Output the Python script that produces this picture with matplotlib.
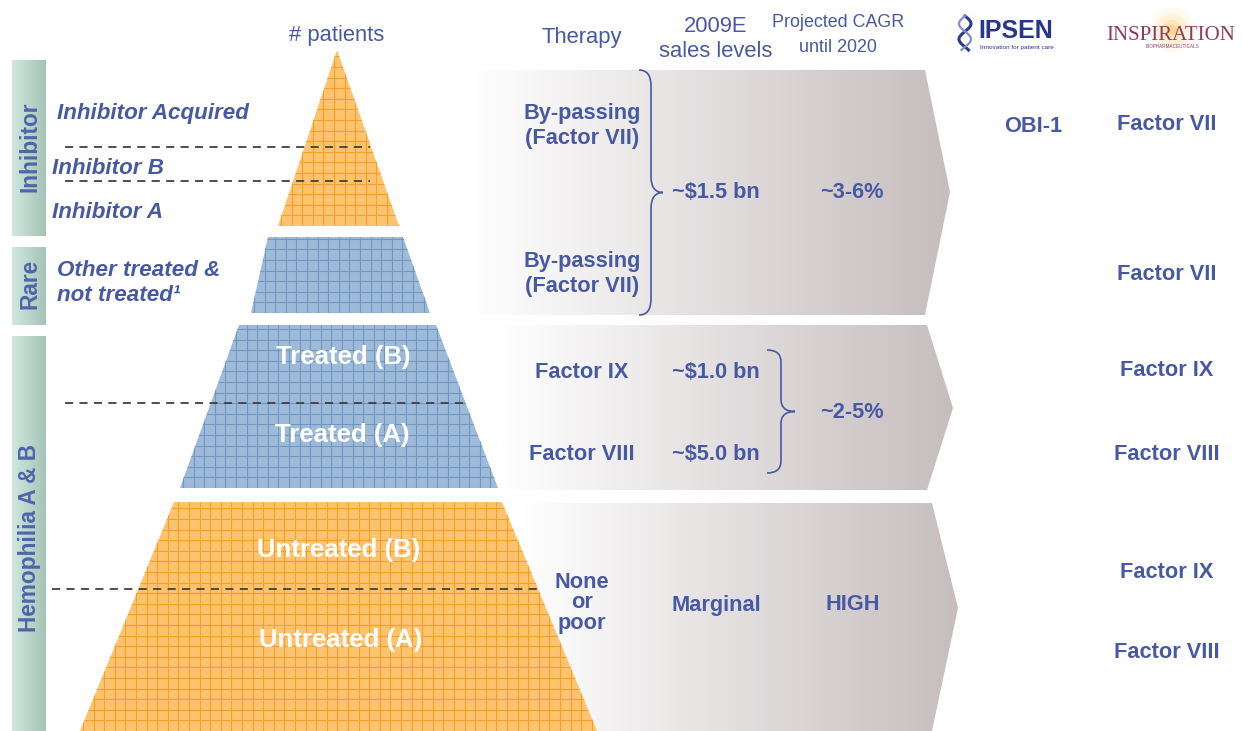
import numpy as np
import matplotlib
matplotlib.use("Agg")
import matplotlib.pyplot as plt
from matplotlib.patches import Polygon, PathPatch
from matplotlib.path import Path
from matplotlib.colors import LinearSegmentedColormap
from matplotlib.collections import LineCollection

plt.rcParams['font.family'] = ['Liberation Sans', 'DejaVu Sans']

# --- chart content ---
groups = ["Inhibitor", "Rare", "Hemophilia A & B"]
segments = ["Inhibitor Acquired", "Inhibitor B", "Inhibitor A", "Other treated &\nnot treated\u00b9"]
pyramid_labels = ["Treated (B)", "Treated (A)", "Untreated (B)", "Untreated (A)"]
headers = ["# patients", "Therapy", "2009E\nsales levels", "Projected CAGR\nuntil 2020"]
therapies = ["By-passing\n(Factor VII)", "By-passing\n(Factor VII)", "Factor IX", "Factor VIII", "None\nor\npoor"]
sales = ["~$1.5 bn", "~$1.0 bn", "~$5.0 bn", "Marginal"]
cagr = ["~3-6%", "~2-5%", "HIGH"]
ipsen_products = ["OBI-1"]
inspiration_products = ["Factor VII", "Factor VII", "Factor IX", "Factor VIII", "Factor IX", "Factor VIII"]

BLUE = "#4759a2"
ORANGE_FILL, ORANGE_GRID = "#fec36e", "#f6a02a"
STEEL_FILL, STEEL_GRID = "#9ebad8", "#6f97c3"
FS = 15.7

fig = plt.figure(figsize=(12.43, 7.31), dpi=100)
ax = fig.add_axes([0, 0, 1, 1])
ax.set_xlim(0, 1243)
ax.set_ylim(731, 0)
ax.axis('off')


def gradient_fill(verts, c0, c1, z):
    poly = Polygon(verts, closed=True, facecolor='none', edgecolor='none')
    ax.add_patch(poly)
    xs = [v[0] for v in verts]
    ys = [v[1] for v in verts]
    cmap = LinearSegmentedColormap.from_list("g", [c0, c1])
    grad = np.linspace(0, 1, 256).reshape(1, -1)
    im = ax.imshow(grad, cmap=cmap, aspect='auto', zorder=z,
                   extent=[min(xs), max(xs), max(ys), min(ys)], interpolation='bilinear')
    im.set_clip_path(poly)


def grid_band(verts, fill, line, z=3, step=10.6):
    poly = Polygon(verts, closed=True, facecolor=fill, edgecolor='none', zorder=z)
    ax.add_patch(poly)
    xs = [v[0] for v in verts]
    ys = [v[1] for v in verts]
    segs = []
    for x in np.arange(min(xs) - 50, max(xs) + 50, step):
        segs.append([(x, min(ys)), (x, max(ys))])
    for y in np.arange(max(ys), min(ys), -step):
        segs.append([(min(xs), y), (max(xs), y)])
    lc = LineCollection(segs, colors=line, linewidths=0.8, zorder=z + 0.1)
    ax.add_collection(lc)
    lc.set_clip_path(poly)


def brace(x0, y0, y1, w, r):
    ym = (y0 + y1) / 2
    xm = x0 + w / 2
    verts = [(x0, y0), (xm, y0), (xm, y0 + r), (xm, ym - r), (xm, ym), (x0 + w, ym),
             (xm, ym), (xm, ym + r), (xm, y1 - r), (xm, y1), (x0, y1)]
    codes = [Path.MOVETO, Path.CURVE3, Path.CURVE3, Path.LINETO, Path.CURVE3, Path.CURVE3,
             Path.CURVE3, Path.CURVE3, Path.LINETO, Path.CURVE3, Path.CURVE3]
    ax.add_patch(PathPatch(Path(verts, codes), facecolor='none', edgecolor=BLUE, lw=1.2, zorder=6))


# grey chevrons
gradient_fill([(470, 70), (925, 70), (950, 192), (925, 315), (470, 315)], "#ffffff", "#c6bdbe", 1)
gradient_fill([(500, 325), (927, 325), (953, 408), (927, 490), (500, 490)], "#ffffff", "#c6bdbe", 1)
gradient_fill([(520, 503), (932, 503), (958, 608), (932, 731), (520, 731)], "#ffffff", "#c6bdbe", 1)

# group boxes on the left
for (y0, y1), g, dy in zip([(60, 236), (247, 325), (336, 731)], groups, [-1, -2, 4]):
    gradient_fill([(12, y0), (46, y0), (46, y1), (12, y1)], "#cfe8df", "#a6c3b7", 1)
    ax.text(30, (y0 + y1) / 2 + dy, g, rotation=90, ha='center', va='center',
            fontsize=16.3, fontweight='bold', color="#5064aa", zorder=5)

# pyramid bands
grid_band([(337, 50), (399, 226), (278, 226)], ORANGE_FILL, ORANGE_GRID)
grid_band([(268, 237), (403, 237), (430, 313), (251, 313)], STEEL_FILL, STEEL_GRID)
grid_band([(239, 325), (436, 325), (498, 488), (180, 488)], STEEL_FILL, STEEL_GRID)
grid_band([(174, 502), (502, 502), (597, 731), (80, 731)], ORANGE_FILL, ORANGE_GRID)

# dashed separators
for y, xa, xb in [(147, 65, 370), (181, 65, 370), (403, 65, 465), (589, 52, 540)]:
    ax.plot([xa, xb], [y, y], color="#404040", lw=1.3, ls=(0, (4.5, 3.5)), zorder=5)

# segment labels (italic)
for (x, y), s in zip([(57, 114), (52, 169), (52, 212), (57, 283)], segments):
    ax.text(x, y, s, ha='left', va='center', fontsize=16.1, fontweight='bold',
            fontstyle='italic', color=BLUE, zorder=6, linespacing=1.2)

# pyramid labels
for (x, y), s in zip([(343, 357), (342, 435), (339, 550), (341, 640)], pyramid_labels):
    ax.text(x, y, s, ha='center', va='center', fontsize=18.5, fontweight='bold',
            color='white', zorder=6)

# headers
for (x, y), s, fs in zip([(337, 35), (582, 38), (716, 39), (838, 35)], headers,
                         [15.8, 15.8, 15.8, 12.9]):
    ax.text(x, y, s, ha='center', va='center', fontsize=fs, color=BLUE,
            zorder=6, linespacing=1.55 if fs < 14 else 1.25)

# therapy / sales / cagr columns
for (x, y), s in zip([(582, 126), (582, 274), (582, 373), (582, 455), (582, 603)], therapies):
    ax.text(x, y, s, ha='center', va='center', fontsize=FS, fontweight='bold',
            color=BLUE, zorder=6, linespacing=0.95 if s.count('\n') == 2 else 1.3)
for (x, y), s in zip([(716, 192), (716, 373), (716, 455), (716, 605)], sales):
    ax.text(x, y, s, ha='center', va='center', fontsize=FS, fontweight='bold', color=BLUE, zorder=6)
for (x, y), s in zip([(852, 192), (852, 413), (853, 605)], cagr):
    ax.text(x, y, s, ha='center', va='center', fontsize=FS, fontweight='bold', color=BLUE, zorder=6)

brace(639, 70, 315, 24, 16)
brace(767, 350, 473, 28, 12)

# company columns
for (x, y), s in zip([(1033, 126)], ipsen_products):
    ax.text(x, y, s, ha='center', va='center', fontsize=FS, fontweight='bold', color=BLUE, zorder=6)
for (x, y), s in zip([(1167, 124), (1167, 274), (1167, 370), (1167, 454), (1167, 573), (1167, 652)],
                     inspiration_products):
    ax.text(x, y, s, ha='center', va='center', fontsize=FS, fontweight='bold', color=BLUE, zorder=6)

# logos
t = np.linspace(0, 1, 60)
ax.plot(965 + 6 * np.sin(t * 2.2 * np.pi), 16 + 34 * t, color="#2b3a8f", lw=2.2, zorder=6)
ax.plot(965 - 6 * np.sin(t * 2.2 * np.pi), 16 + 34 * t, color="#7f8fc8", lw=1.6, zorder=6)
ax.text(978, 31, "IPSEN", ha='left', va='center', fontsize=18, fontweight='bold',
        color="#27358c", zorder=6)
ax.text(980, 47, "Innovation for patient care", ha='left', va='center', fontsize=4.6,
        color="#27358c", zorder=6)
for r, a in [(22, 0.08), (16, 0.12), (10, 0.2), (5, 0.3)]:
    ax.add_patch(plt.Circle((1172, 30), r, color="#ffb533", alpha=a, lw=0, zorder=5))
ax.text(1171, 35, "INSPIRATION", ha='center', va='center', fontsize=15,
        family=['Liberation Serif', 'DejaVu Serif'], color="#8e3b63", zorder=6)
ax.text(1173, 47, "BIOPHARMACEUTICALS", ha='center', va='center', fontsize=3.3,
        color="#8e3b63", zorder=6)

fig.savefig("out.png", dpi=100, facecolor='white')
